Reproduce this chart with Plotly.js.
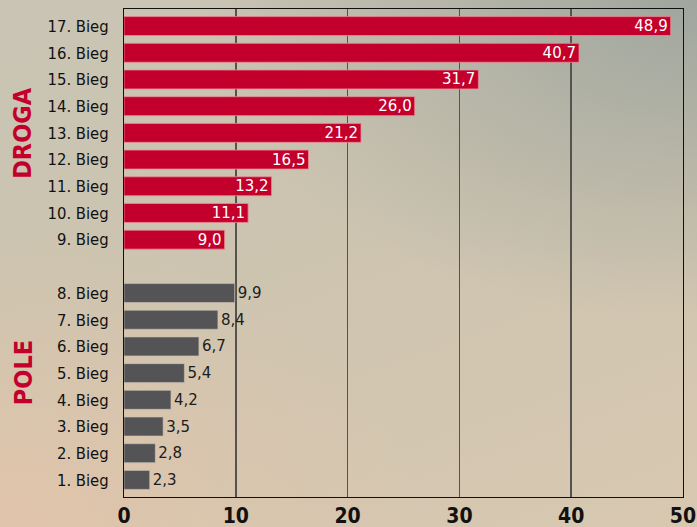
<!DOCTYPE html>
<html>
<head>
<meta charset="utf-8">
<script src="https://cdn.plot.ly/plotly-3.0.1.min.js"></script>
<style>
html,body{margin:0;padding:0;}
#chart{width:697px;height:527px;
background:
 radial-gradient(ellipse 420px 300px at 0% 100%, rgba(226,196,170,0.9), rgba(226,196,170,0) 100%),
 radial-gradient(ellipse 500px 320px at 100% 0%, rgba(160,166,158,1), rgba(160,166,158,0) 100%),
 linear-gradient(160deg, #c9c4b4 0%, #cdc4b0 45%, #d8c8b0 100%);
}
</style>
</head>
<body>
<div id="chart"></div>
<script>
// Data
const poleLabels = ["1. Bieg","2. Bieg","3. Bieg","4. Bieg","5. Bieg","6. Bieg","7. Bieg","8. Bieg"];
const poleValues = [2.3, 2.8, 3.5, 4.2, 5.4, 6.7, 8.4, 9.9];
const drogaLabels = ["9. Bieg","10. Bieg","11. Bieg","12. Bieg","13. Bieg","14. Bieg","15. Bieg","16. Bieg","17. Bieg"];
const drogaValues = [9.0, 11.1, 13.2, 16.5, 21.2, 26.0, 31.7, 40.7, 48.9];
const groupNames = ["POLE", "DROGA"];
const xTicks = [0, 10, 20, 30, 40, 50];

// positions: pole rows 0..7, one empty slot, droga rows after it
const polePos = poleLabels.map((_, i) => i);
const drogaPos = drogaLabels.map((_, i) => poleLabels.length + 1 + i);
const fmt = v => v.toFixed(1).replace('.', ',');

const COND = '"DejaVu Sans Condensed", "Liberation Sans Narrow", "DejaVu Sans", sans-serif';

const traces = [
  {
    type: 'bar', orientation: 'h',
    x: poleValues, y: polePos, width: 0.71,
    marker: {color: '#545457', line: {color: 'rgba(200,195,185,0.6)', width: 1}},
    text: poleValues.map(fmt), textposition: 'outside', cliponaxis: false, constraintext: 'none',
    textfont: {family: 'DejaVu Sans', size: 15, color: '#1c1c1c'},
    hoverinfo: 'none'
  },
  {
    type: 'bar', orientation: 'h',
    x: drogaValues, y: drogaPos, width: 0.71,
    marker: {color: '#c3002c', line: {color: 'rgba(230,140,150,0.8)', width: 1}},
    text: drogaValues.map(fmt), textposition: 'inside', insidetextanchor: 'end', constraintext: 'none',
    textfont: {family: 'DejaVu Sans', size: 15, color: '#ffffff'},
    hoverinfo: 'none'
  }
];

const tickvals = polePos.concat(drogaPos);
const ticktext = poleLabels.concat(drogaLabels);

const layout = {
  width: 697, height: 527,
  margin: {l: 124, r: 14, t: 9, b: 30},
  paper_bgcolor: 'rgba(0,0,0,0)', plot_bgcolor: 'rgba(0,0,0,0)',
  showlegend: false, bargap: 0,
  xaxis: {
    range: [0, 50], tickvals: xTicks, ticktext: xTicks.map(String),
    showgrid: true, gridcolor: '#55534d', gridwidth: 1.5,
    zeroline: false, showline: true, mirror: true, linecolor: '#111', linewidth: 1,
    ticks: '', ticklabelstandoff: 0,
    tickfont: {family: COND, size: 21, color: '#111', weight: 'bold'}
  },
  yaxis: {
    range: [-0.64, 17.64], tickvals: tickvals, ticktext: ticktext,
    showgrid: false, zeroline: false, showline: true, mirror: true, linecolor: '#111', linewidth: 1,
    ticks: '', ticklabelstandoff: 11,
    tickfont: {family: COND, size: 16.5, color: '#111'}
  },
  annotations: [
    {text: groupNames[1], xref: 'paper', yref: 'y', x: 0, y: drogaPos[4], xshift: -101,
     xanchor: 'center', yanchor: 'middle',
     showarrow: false, textangle: -90,
     font: {family: COND, size: 25, color: '#c3002c', weight: 'bold'}},
    {text: groupNames[0], xref: 'paper', yref: 'y', x: 0, y: polePos[4], xshift: -101,
     xanchor: 'center', yanchor: 'middle',
     showarrow: false, textangle: -90,
     font: {family: COND, size: 25, color: '#c3002c', weight: 'bold'}}
  ]
};

Plotly.newPlot('chart', traces, layout, {staticPlot: true});
</script>
</body>
</html>
